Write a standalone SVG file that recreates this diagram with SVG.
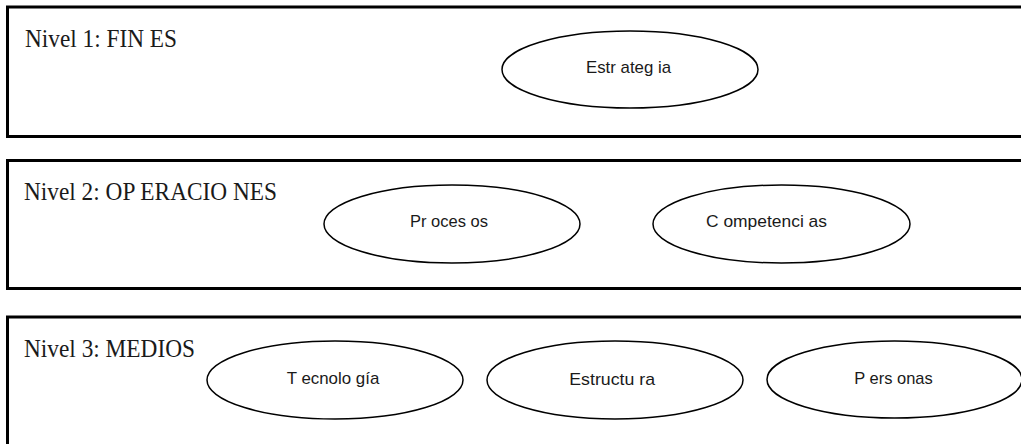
<svg xmlns="http://www.w3.org/2000/svg" width="1021" height="444" viewBox="0 0 1021 444">
<style>
.level{fill:#fff;stroke:#000;stroke-width:3}
.node{fill:#fff;stroke:#000;stroke-width:1.5}
.ltitle{font-family:"Liberation Serif","Times New Roman",serif;font-size:26px;fill:#1a1a1a}
.ntext{font-family:"Liberation Sans",Arial,sans-serif;font-size:17px;fill:#1a1a1a}
</style>
<rect width="1021" height="444" fill="#fff"/>
<g id="level1">
<rect class="level" x="7.5" y="7" width="1030" height="129.5"/>
<text class="ltitle" x="25" y="46.5" textLength="152" lengthAdjust="spacingAndGlyphs">Nivel 1: FIN ES</text>
</g>
<g id="level2">
<rect class="level" x="7.5" y="160.5" width="1030" height="128"/>
<text class="ltitle" x="24" y="200" textLength="253" lengthAdjust="spacingAndGlyphs">Nivel 2: OP ERACIO NES</text>
</g>
<g id="level3">
<rect class="level" x="7.5" y="317" width="1030" height="140"/>
<text class="ltitle" x="24" y="356.5" textLength="171" lengthAdjust="spacingAndGlyphs">Nivel 3: MEDIOS</text>
</g>
<g id="connectors"/>
<g id="estrategia">
<ellipse class="node" cx="630" cy="69.5" rx="128" ry="38.5"/>
<text class="ntext" x="586" y="72.7" textLength="85" lengthAdjust="spacingAndGlyphs">Estr ateg ia</text>
</g>
<g id="procesos">
<ellipse class="node" cx="452" cy="224" rx="128" ry="39"/>
<text class="ntext" x="410" y="226.7" textLength="78" lengthAdjust="spacingAndGlyphs">Pr oces os</text>
</g>
<g id="competencias">
<ellipse class="node" cx="781.5" cy="224" rx="128.5" ry="39"/>
<text class="ntext" x="706" y="227.3" textLength="121" lengthAdjust="spacingAndGlyphs">C ompetenci as</text>
</g>
<g id="tecnologia">
<ellipse class="node" cx="335" cy="380" rx="128" ry="39"/>
<text class="ntext" x="286.7" y="384" textLength="92.6" lengthAdjust="spacingAndGlyphs">T ecnolo gía</text>
</g>
<g id="estructura">
<ellipse class="node" cx="615" cy="380" rx="128" ry="39"/>
<text class="ntext" x="569.3" y="385" textLength="85.7" lengthAdjust="spacingAndGlyphs">Estructu ra</text>
</g>
<g id="personas">
<ellipse class="node" cx="894.5" cy="379.5" rx="127.5" ry="38.5"/>
<text class="ntext" x="854.3" y="384" textLength="78.4" lengthAdjust="spacingAndGlyphs">P ers onas</text>
</g>
</svg>
